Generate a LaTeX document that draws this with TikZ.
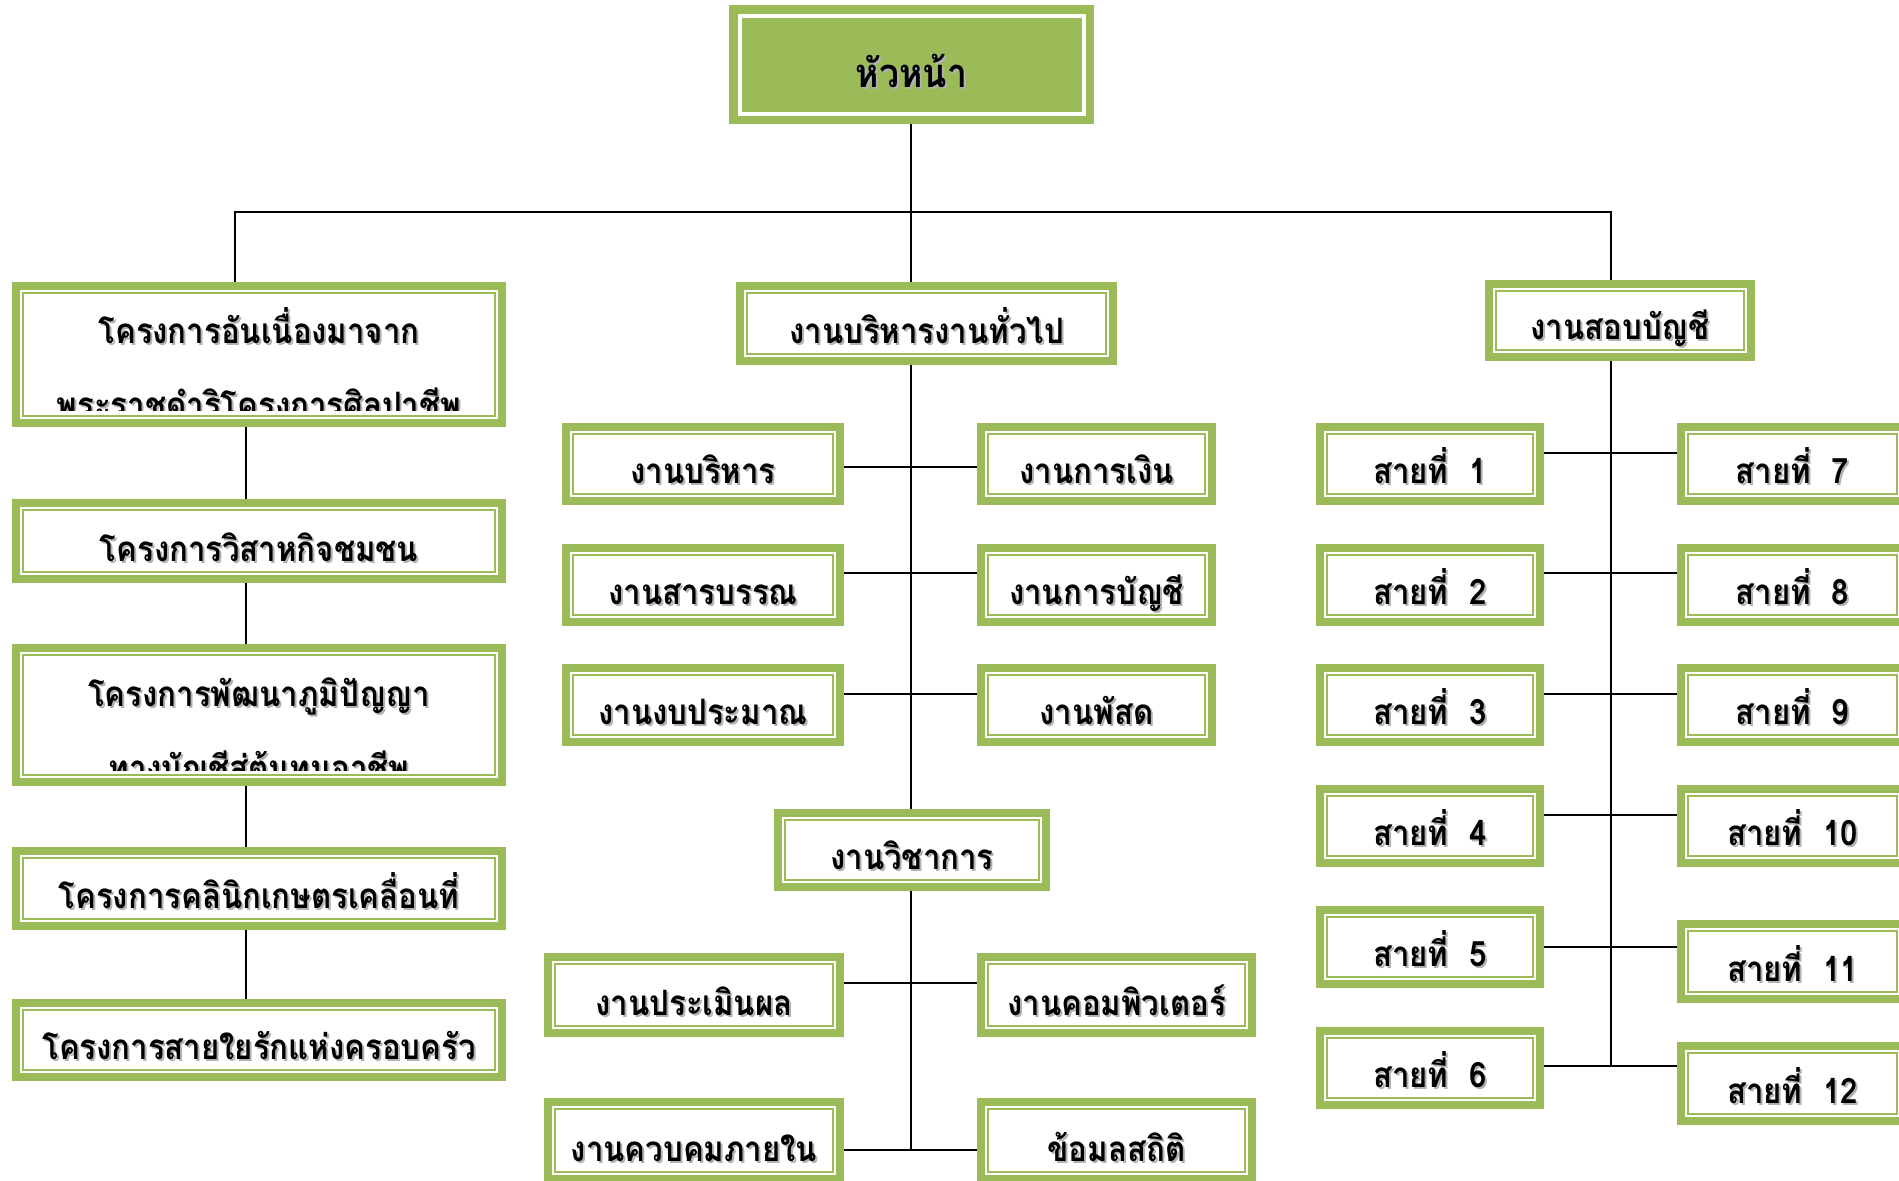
\documentclass[tikz,border=0pt]{standalone}
\usepackage{fontspec}
\newfontfamily\thaifont[Script=Thai, FakeStretch=0.89]{Loma}
\usetikzlibrary{fit}
\definecolor{gr}{HTML}{9BBB59}
\tikzset{
  txt/.style={font=\thaifont\bfseries\fontsize{17.5}{20}\selectfont, inner sep=0, anchor=base},
  shd/.style={txt, text=black!30},
  conn/.style={line width=1pt, black},
  boxfit/.style={inner sep=0, draw=none},
}
\newcommand\gframe[4]{%
  \fill[gr] (#1,#2) rectangle (#3,#4);
  \fill[white] ({#1+8},{#2+8}) rectangle ({#3-8},{#4-8});
  \draw[gr, line width=0.8pt] ({#1+11},{#2+11}) rectangle ({#3-11},{#4-11});
}
\newcommand\gtext[4]{% name, x, baseline, text
  \node[shd] (#1-s) at ({#2+2},{#3+2}) {#4};
  \node[txt] (#1-t) at ({#2},{#3}) {#4};
}
\newcommand\gbox[6]{% name x1 y1 x2 y2 text
  \gframe{#2}{#3}{#4}{#5}
  \node[boxfit, fit={(#2,#3) (#4,#5)}] (#1) {};
  \gtext{#1}{(#2+#4)/2}{#5-22}{#6}
}
\newcommand\gboxtwo[9]{% name x1 y1 x2 y2 line1 line2 base1 clipy
  \gframe{#2}{#3}{#4}{#5}
  \node[boxfit, fit={(#2,#3) (#4,#5)}] (#1) {};
  \gtext{#1}{(#2+#4)/2}{#8}{#6}
  \begin{scope}
    \clip ({#2+12},{#3+12}) rectangle ({#4-12},{#9});
    \gtext{#1b}{(#2+#4)/2}{#8+74}{#7}
  \end{scope}
}
\begin{document}
\begin{tikzpicture}[x=0.5pt,y=-0.5pt]
\useasboundingbox (0,0) rectangle (1899,1180);
% head
\fill[gr] (729,5) rectangle (1094,124);
\draw[white, line width=2pt] (739.5,15.5) rectangle (1083.5,113.5);
\node[boxfit, fit={(729,5) (1094,124)}] (head) {};
\node[shd, font=\thaifont\bfseries\fontsize{20}{22}\selectfont] (head-s) at (913.5,89) {หัวหน้า};
\node[txt, font=\thaifont\bfseries\fontsize{20}{22}\selectfont] (head-t) at (911.5,87) {หัวหน้า};
% left column
\gboxtwo{L1}{12}{282}{506}{427}{โครงการอันเนื่องมาจาก}{พระราชดำริโครงการศิลปาชีพ}{343}{410}
\gbox{L2}{12}{499}{506}{583}{โครงการวิสาหกิจชมชน}
\gboxtwo{L3}{12}{644}{506}{786}{โครงการพัฒนาภูมิปัญญา}{ทางบัญชีสู่ต้นทุนอาชีพ}{706}{770}
\gbox{L4}{12}{847}{506}{930}{โครงการคลินิกเกษตรเคลื่อนที่}
\gbox{L5}{12}{999}{506}{1081}{โครงการสายใยรักแห่งครอบครัว}
% middle
\gbox{GA}{736}{282}{1117}{365}{งานบริหารงานทั่วไป}
\gbox{M1L}{562}{423}{844}{505}{งานบริหาร}
\gbox{M1R}{977}{423}{1216}{505}{งานการเงิน}
\gbox{M2L}{562}{544}{844}{626}{งานสารบรรณ}
\gbox{M2R}{977}{544}{1216}{626}{งานการบัญชี}
\gbox{M3L}{562}{664}{844}{746}{งานงบประมาณ}
\gbox{M3R}{977}{664}{1216}{746}{งานพัสด}
\gbox{AC}{774}{809}{1050}{891}{งานวิชาการ}
\gbox{A1L}{544}{953}{844}{1037}{งานประเมินผล}
\gbox{A1R}{977}{953}{1256}{1037}{งานคอมพิวเตอร์}
\gbox{A2L}{544}{1098}{844}{1183}{งานควบคมภายใน}
\gbox{A2R}{977}{1098}{1256}{1183}{ข้อมลสถิติ}
% right
\gbox{AU}{1485}{280}{1755}{361}{งานสอบบัญชี}
\gbox{R1}{1316}{423}{1544}{505}{สายที่\ \ 1}
\gbox{R2}{1316}{544}{1544}{626}{สายที่\ \ 2}
\gbox{R3}{1316}{664}{1544}{746}{สายที่\ \ 3}
\gbox{R4}{1316}{785}{1544}{867}{สายที่\ \ 4}
\gbox{R5}{1316}{906}{1544}{988}{สายที่\ \ 5}
\gbox{R6}{1316}{1027}{1544}{1109}{สายที่\ \ 6}
\gbox{R7}{1677}{423}{1908}{505}{สายที่\ \ 7}
\gbox{R8}{1677}{544}{1908}{626}{สายที่\ \ 8}
\gbox{R9}{1677}{664}{1908}{746}{สายที่\ \ 9}
\gbox{R10}{1677}{785}{1908}{867}{สายที่\ \ 10}
\gbox{R11}{1677}{920}{1908}{1003}{สายที่\ \ 11}
\gbox{R12}{1677}{1042}{1908}{1125}{สายที่\ \ 12}
% connector coordinates
\coordinate (busL) at (235,212);
\coordinate (busR) at (1611,212);
\coordinate (lx) at (246,0);
\coordinate (mx) at (911,0);
\coordinate (hm1) at (0,467);
\coordinate (hm2) at (0,573);
\coordinate (hm3) at (0,694);
\coordinate (ha1) at (0,983);
\coordinate (ha2) at (0,1150);
\coordinate (hr1) at (0,453);
\coordinate (hr2) at (0,573);
\coordinate (hr3) at (0,694);
\coordinate (hr4) at (0,815);
\coordinate (hr5) at (0,947);
\coordinate (hr6) at (0,1066);
% connectors
\draw[conn] (head.south -| mx) -- (GA.north -| mx);
\draw[conn] (L1.north -| busL) -- (busL) -- (busR) -- (AU.north -| busR);
\draw[conn] (L1.south -| lx) -- (L2.north -| lx);
\draw[conn] (L2.south -| lx) -- (L3.north -| lx);
\draw[conn] (L3.south -| lx) -- (L4.north -| lx);
\draw[conn] (L4.south -| lx) -- (L5.north -| lx);
\draw[conn] (GA.south -| mx) -- (AC.north -| mx);
\draw[conn] (M1L.east |- hm1) -- (M1R.west |- hm1);
\draw[conn] (M2L.east |- hm2) -- (M2R.west |- hm2);
\draw[conn] (M3L.east |- hm3) -- (M3R.west |- hm3);
\draw[conn] (AC.south -| mx) -- (mx |- ha2);
\draw[conn] (A1L.east |- ha1) -- (A1R.west |- ha1);
\draw[conn] (A2L.east |- ha2) -- (A2R.west |- ha2);
\draw[conn] (AU.south -| busR) -- (busR |- hr6);
\draw[conn] (R1.east |- hr1) -- (R7.west |- hr1);
\draw[conn] (R2.east |- hr2) -- (R8.west |- hr2);
\draw[conn] (R3.east |- hr3) -- (R9.west |- hr3);
\draw[conn] (R4.east |- hr4) -- (R10.west |- hr4);
\draw[conn] (R5.east |- hr5) -- (R11.west |- hr5);
\draw[conn] (R6.east |- hr6) -- (R12.west |- hr6);
\end{tikzpicture}
\end{document}
